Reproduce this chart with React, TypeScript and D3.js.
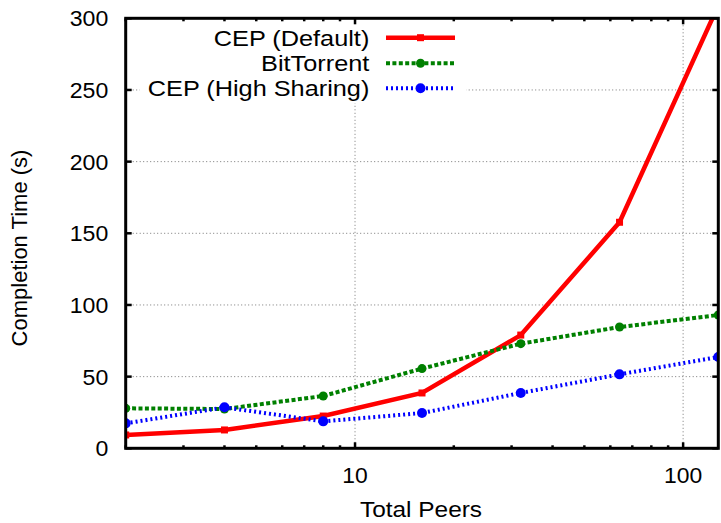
import * as d3 from "d3";

// x values (total peers) and completion times
const peers = [2, 4, 8, 16, 32, 64, 128];
const cepDefault = [9.3, 12.8, 22.5, 38.6, 79, 157.7, 309];
const bitTorrent = [27.9, 27.4, 36.5, 55.6, 73, 84.6, 93];
const cepHigh = [17.4, 28.6, 18.8, 24.6, 38.6, 51.6, 63.7];

const yTicks = [0, 50, 100, 150, 200, 250, 300];
const xMajor = [10, 100];
const xMinor = [2, 3, 4, 5, 6, 7, 8, 9, 20, 30, 40, 50, 60, 70, 80, 90];

const seriesNames = ["CEP (Default)", "BitTorrent", "CEP (High Sharing)"];

const W = 721;
const H = 523;
const left = 125.7, right = 718.3, top = 18.3, bottom = 448.3;
const FONT = "'Liberation Sans', Arial, Helvetica, sans-serif";

export default function App() {
    const x = d3.scaleLog().domain([2, 128]).range([left, right]);
    const y = d3.scaleLinear().domain([0, 300]).range([bottom, top]);

    const line = d3
        .line<number>()
        .x((d, i) => x(peers[i]))
        .y((d) => y(d));

    const series = [
        { name: seriesNames[0], values: cepDefault, color: "#ff0000", width: 4.5, dash: "none", marker: "square", r: 3.5 },
        { name: seriesNames[1], values: bitTorrent, color: "#008000", width: 4, dash: "4,2.4", marker: "circle", r: 4.5 },
        { name: seriesNames[2], values: cepHigh, color: "#0000ff", width: 4, dash: "2,3", marker: "circle", r: 5 },
    ];

    const marker = (s, cx, cy, key) =>
        s.marker === "square" ? (
            <rect key={key} x={cx - s.r} y={cy - s.r} width={s.r * 2} height={s.r * 2} fill={s.color} />
        ) : (
            <circle key={key} cx={cx} cy={cy} r={s.r} fill={s.color} />
        );

    // legend geometry
    const legRows = [37.7, 63.3, 88.3];
    const legX0 = 386, legX1 = 455, legTextX = 369.3;

    return (
        <svg width={W} height={H} style={{ position: "absolute", left: 0, top: 0 }}>
            <defs>
                <clipPath id="plotArea">
                    <rect x={left} y={top} width={right - left} height={bottom - top} />
                </clipPath>
            </defs>
            <rect width={W} height={H} fill="#fff" />

            {/* grid */}
            {yTicks.slice(1, -1).map((t) => (
                <line key={"gy" + t} x1={left} x2={right} y1={y(t)} y2={y(t)}
                    stroke="#777" strokeWidth={1} strokeDasharray="1,2.5" />
            ))}
            {xMajor.map((t) => (
                <line key={"gx" + t} x1={x(t)} x2={x(t)} y1={top} y2={bottom}
                    stroke="#777" strokeWidth={1} strokeDasharray="1,2.5" />
            ))}

            {/* legend box hides grid behind it */}
            <rect x={140} y={top} width={326} height={103 - top} fill="#fff" />

            {/* ticks */}
            {yTicks.map((t) => (
                <g key={"ty" + t}>
                    <line x1={left} x2={left + 6} y1={y(t)} y2={y(t)} stroke="#000" strokeWidth={2.5} />
                    <line x1={right} x2={right - 6} y1={y(t)} y2={y(t)} stroke="#000" strokeWidth={2.5} />
                    <text x={108.3} y={y(t)} dy="0.36em" textAnchor="end" fontFamily={FONT} fontSize={22}
                        transform={`translate(108.3,0) scale(1.05,1) translate(-108.3,0)`}>
                        {t}
                    </text>
                </g>
            ))}
            {xMajor.map((t) => (
                <g key={"tx" + t}>
                    <line x1={x(t)} x2={x(t)} y1={bottom} y2={bottom - 6} stroke="#000" strokeWidth={2.5} />
                    <line x1={x(t)} x2={x(t)} y1={top} y2={top + 6} stroke="#000" strokeWidth={2.5} />
                    <text textAnchor="middle" fontFamily={FONT} fontSize={22}
                        transform={`translate(${x(t)},483) scale(1.04,1)`}>
                        {t}
                    </text>
                </g>
            ))}
            {xMinor.map((t) => (
                <g key={"tm" + t}>
                    <line x1={x(t)} x2={x(t)} y1={bottom} y2={bottom - 3} stroke="#000" strokeWidth={2.5} />
                    <line x1={x(t)} x2={x(t)} y1={top} y2={top + 3} stroke="#000" strokeWidth={2.5} />
                </g>
            ))}

            {/* series */}
            <g clipPath="url(#plotArea)">
                {series.map((s) => (
                    <g key={s.name}>
                        <path d={line(s.values)} fill="none" stroke={s.color} strokeWidth={s.width}
                            strokeDasharray={s.dash} strokeLinejoin="miter" />
                        {s.values.map((v, i) => marker(s, x(peers[i]), y(v), s.name + i))}
                    </g>
                ))}
            </g>

            {/* legend */}
            {series.map((s, i) => (
                <g key={"leg" + s.name}>
                    <text textAnchor="end" fontFamily={FONT} fontSize={22}
                        transform={`translate(${legTextX},${legRows[i] + 7.8}) scale(1.15,1)`}>
                        {s.name}
                    </text>
                    <line x1={legX0} x2={legX1} y1={legRows[i]} y2={legRows[i]} stroke={s.color}
                        strokeWidth={s.width} strokeDasharray={s.dash} />
                    {marker(s, (legX0 + legX1) / 2, legRows[i], "lm" + i)}
                </g>
            ))}

            {/* frame */}
            <rect x={left} y={top} width={right - left} height={bottom - top} fill="none" stroke="#000" strokeWidth={3} />

            {/* axis titles */}
            <text textAnchor="middle" fontFamily={FONT} fontSize={22}
                transform={`translate(421,517) scale(1.11,1)`}>
                Total Peers
            </text>
            <text textAnchor="middle" fontFamily={FONT} fontSize={22}
                transform={`translate(27,248) rotate(-90)`}>
                Completion Time (s)
            </text>
        </svg>
    );
}
